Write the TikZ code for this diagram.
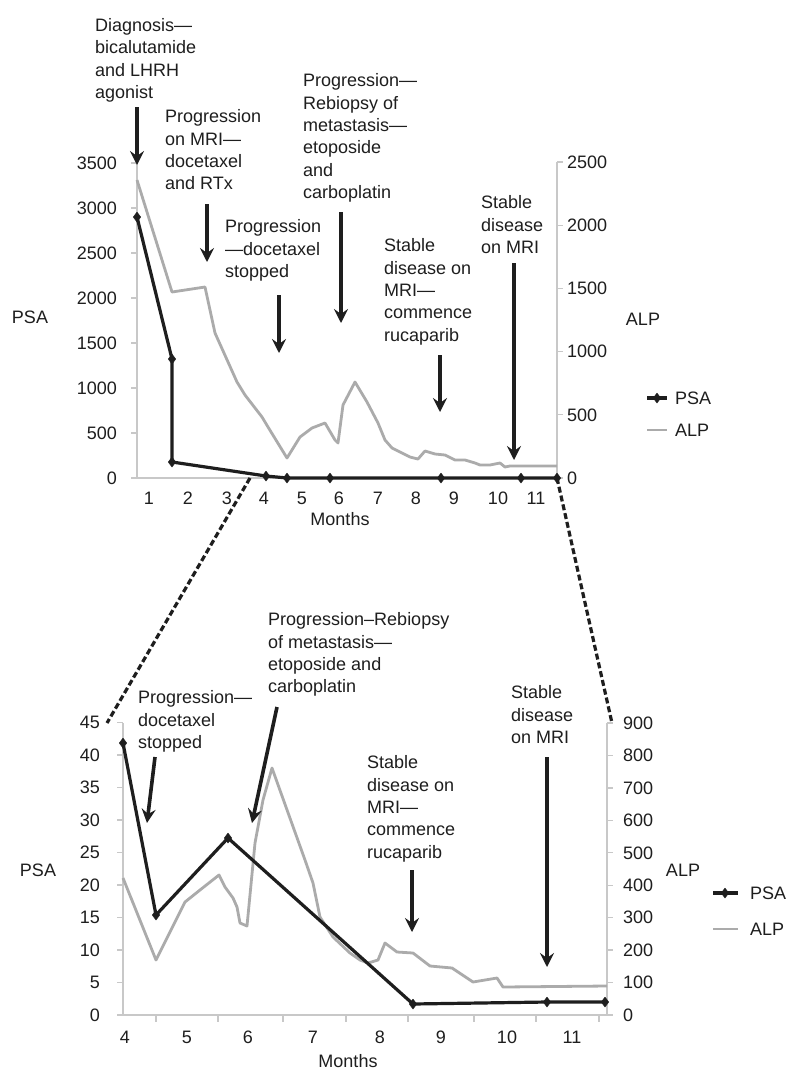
\documentclass[tikz,border=0pt]{standalone}
\usepackage{fontspec}
\setmainfont{Liberation Sans}
\usetikzlibrary{arrows.meta,plotmarks}
\definecolor{txt}{HTML}{1E1E1E}
\definecolor{axisgray}{HTML}{C8C8C8}
\definecolor{alpgray}{HTML}{ABABAB}
\newcommand{\chartfont}{\fontsize{18}{22.4}\selectfont}
\begin{document}
\begin{tikzpicture}[x=1pt,y=-1pt,
  lbl/.style={font=\chartfont, text=txt, inner sep=0pt},
  ann/.style={lbl, align=left, anchor=north west},
  axisline/.style={draw=axisgray, line width=1.3pt},
  psa/.style={line width=3.2pt, draw=txt, line join=round, mark=diamond*, mark size=5pt, mark options={solid, fill=txt, line width=0.4pt}},
  alp/.style={line width=2.8pt, draw=alpgray, line join=round},
  evarrow/.style={line width=3.6pt, draw=txt, -{Stealth[length=14pt,width=14pt,inset=5pt]}},
  zoomline/.style={line width=3.2pt, draw=txt, dash pattern=on 6pt off 3pt}
]
\useasboundingbox[fill=white] (0,0) rectangle (786,1072);

% ================= TOP CHART =================
% axes
\draw[axisline] (137,162) -- (137,478);
\draw[axisline] (557,162) -- (557,478);
\draw[axisline] (131,478) -- (557,478);
\foreach \v in {0,500,...,3500}{
  \draw[axisline] (131,{478-\v*0.09}) -- (137,{478-\v*0.09});
  \node[lbl, anchor=east] (tl\v) at (117,{478-\v*0.09}) {\v};
}
\foreach \v in {0,500,...,2500}{
  \draw[axisline] (557,{478-\v*0.1264}) -- (563,{478-\v*0.1264});
  \node[lbl, anchor=west] (tr\v) at (567,{478-\v*0.1264}) {\v};
}
\foreach \k/\x in {1/149,2/188,3/227,4/264,5/302,6/339,7/378,8/416,9/454,10/498,11/536}{
  \node[lbl] (tx\k) at (\x,498) {\k};
}
\node[lbl] (tmonths) at (340,519) {Months};
\node[lbl] (tpsa) at (30,317) {PSA};
\node[lbl] (talp) at (643,319) {ALP};

% ALP series
\draw[alp] plot coordinates {(137,180) (172,292) (205,287) (215,333) (237,382) (245,395) (262,417) (268,427) (287,458) (300,437) (312,428) (325,423) (335,440) (338,443) (343,405) (355,382) (367,402) (378,423) (385,440) (392,448) (410,457) (418,459) (425,451) (435,454) (445,455) (455,460) (465,460) (475,463) (480,465) (490,465) (500,463) (505,467) (510,466) (557,466)};
% PSA series
\draw[psa] plot coordinates {(137,217) (172,359) (172,462) (266,476) (287,478) (330,478) (441,478) (521,478) (557,478)};

% legend
\draw[psa, mark indices={2}] plot coordinates {(647,398) (657,398) (667,398)};
\draw[alp] (647,430) -- (667,430);
\node[lbl, anchor=west] (tlegpsa) at (675,398) {PSA};
\node[lbl, anchor=west] (tlegalp) at (675,430) {ALP};

% annotations
\node[ann] (ta1) at (95,18) {Diagnosis—\\bicalutamide\\and LHRH\\agonist};
\node[ann] (ta2) at (165,109.5) {Progression\\on MRI—\\docetaxel\\and RTx};
\node[ann] (ta3) at (225,219.5) {Progression\\—docetaxel\\stopped};
\node[ann] (ta4) at (303,73.5) {Progression—\\Rebiopsy of\\metastasis—\\etoposide\\and\\carboplatin};
\node[ann] (ta5) at (384,238.5) {Stable\\disease on\\MRI—\\commence\\rucaparib};
\node[ann] (ta6) at (481,195.5) {Stable\\disease\\on MRI};

\coordinate (a1s) at (137,107); \coordinate (a1e) at (137,165);
\coordinate (a2s) at (207,204); \coordinate (a2e) at (207,262);
\coordinate (a3s) at (279,295); \coordinate (a3e) at (279,353);
\coordinate (a4s) at (341,212); \coordinate (a4e) at (341,323);
\coordinate (a5s) at (440,355); \coordinate (a5e) at (440,412);
\coordinate (a6s) at (514,263); \coordinate (a6e) at (514,460);
\foreach \i in {1,...,6}{ \draw[evarrow] (a\i s) -- (a\i e); }

% zoom lines
\coordinate (zl1) at (250,478); \coordinate (zl2) at (107,723);
\coordinate (zr1) at (557,478); \coordinate (zr2) at (612,723);
\draw[zoomline] (zl1) -- (zl2);
\draw[zoomline] (zr1) -- (zr2);

% ================= BOTTOM CHART =================
\draw[axisline] (123,723) -- (123,1015);
\draw[axisline] (607,723) -- (607,1015);
\draw[axisline] (117,1015) -- (607,1015);
\foreach \v in {0,5,...,45}{
  \draw[axisline] (117,{1015-\v*6.5}) -- (123,{1015-\v*6.5});
  \node[lbl, anchor=east] (bl\v) at (100,{1015-\v*6.5}) {\v};
}
\foreach \v in {0,100,...,900}{
  \draw[axisline] (607,{1015-\v*0.3244}) -- (613,{1015-\v*0.3244});
  \node[lbl, anchor=west] (br\v) at (623,{1015-\v*0.3244}) {\v};
}
\foreach \x in {156,218,283,346,408,474,536,599}{
  \draw[axisline] (\x,1015) -- (\x,1022);
}
\foreach \k/\x in {4/125,5/187,6/248,7/313,8/380,9/441,10/507,11/572}{
  \node[lbl] (bx\k) at (\x,1037) {\k};
}
\node[lbl] (bmonths) at (348,1061) {Months};
\node[lbl] (bpsa) at (38,870) {PSA};
\node[lbl] (balp) at (683,870) {ALP};

% ALP series
\draw[alp] plot coordinates {(123,878) (156,960) (185,902) (200,890) (219,875) (225,887) (233,898) (237,907) (240,923) (247,926) (255,843) (263,800) (272,768) (305,860) (313,883) (320,917) (333,937) (350,953) (360,960) (368,963) (378,960) (385,943) (397,952) (413,953) (430,966) (452,968) (473,982) (497,978) (503,987) (607,986)};
% PSA series
\draw[psa] plot coordinates {(123,743) (156,915) (228,838) (413,1004) (547,1002) (605,1002)};

% legend
\draw[psa, mark indices={2}] plot coordinates {(713,893) (725,893) (738,893)};
\draw[alp] (713,929) -- (738,929);
\node[lbl, anchor=west] (blegpsa) at (750,893) {PSA};
\node[lbl, anchor=west] (blegalp) at (750,929) {ALP};

% annotations
\node[ann] (ba1) at (138,690.5) {Progression—\\docetaxel\\stopped};
\node[ann] (ba2) at (268,612.5) {Progression–Rebiopsy\\of metastasis—\\etoposide and\\carboplatin};
\node[ann] (ba3) at (367,755.5) {Stable\\disease on\\MRI—\\commence\\rucaparib};
\node[ann] (ba4) at (511,685.5) {Stable\\disease\\on MRI};

\coordinate (b1s) at (155,757); \coordinate (b1e) at (147,823);
\coordinate (b2s) at (277,707); \coordinate (b2e) at (252,823);
\coordinate (b3s) at (412,870); \coordinate (b3e) at (412,932);
\coordinate (b4s) at (547,757); \coordinate (b4e) at (547,967);
\foreach \i in {1,...,4}{ \draw[evarrow] (b\i s) -- (b\i e); }
\end{tikzpicture}
\end{document}
